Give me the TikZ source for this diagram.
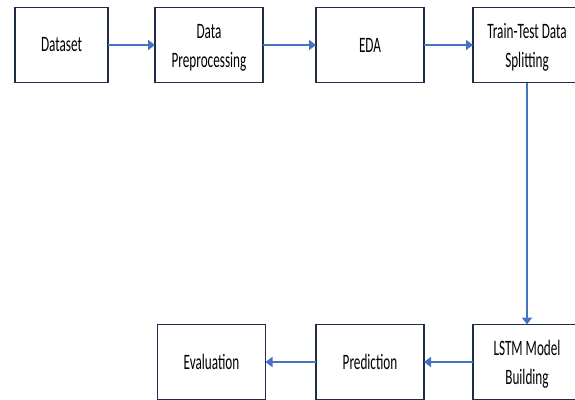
\documentclass[tikz,border=0pt]{standalone}
\usepackage{fontspec}
\newfontfamily\stagefont{Carlito}[FakeStretch=0.6]
\usetikzlibrary{arrows.meta}
\definecolor{boxline}{RGB}{32,44,72}
\definecolor{flowblue}{RGB}{68,114,196}

\begin{document}
\begin{tikzpicture}[x = 1pt, y = -1pt]
\tikzstyle{StageStyle}=[shape = rectangle,
                        minimum width = 108pt,
                        minimum height = 75pt,
                        inner sep = 0pt,
                        outer sep = 0pt,
                        align = center,
                        line width = 1.5pt,
                        draw = boxline,
                        font = \stagefont\fontsize{22}{28.5}\selectfont]
\tikzstyle{FlowStyle}=[draw = flowblue,
                       line width = 2pt,
                       -{Triangle[length = 7pt, width = 10pt]}]
\useasboundingbox (0,0) rectangle (575,399);
\clip (0,0) rectangle (575,399);
% top row
\node[StageStyle, minimum width = 93pt] (dataset) at (61.5, 45) {Dataset};
\node[StageStyle] (prep)    at (209, 45)  {\strut Data\\Preprocessing};
\node[StageStyle] (eda)     at (370, 45)  {EDA};
\node[StageStyle] (split)   at (527, 45)  {\strut Train-Test Data\\Splitting};
% bottom row
\node[StageStyle] (lstm)    at (527, 362) {\strut LSTM Model\\Building};
\node[StageStyle] (pred)    at (370, 362) {Prediction};
\node[StageStyle] (eval)    at (211.5, 362) {Evaluation};
% flow
\draw[FlowStyle] (dataset) -- (prep);
\draw[FlowStyle] (prep) -- (eda);
\draw[FlowStyle] (eda) -- (split);
\draw[FlowStyle] (split) -- (lstm);
\draw[FlowStyle] (lstm) -- (pred);
\draw[FlowStyle] (pred) -- (eval);
\end{tikzpicture}
\end{document}
